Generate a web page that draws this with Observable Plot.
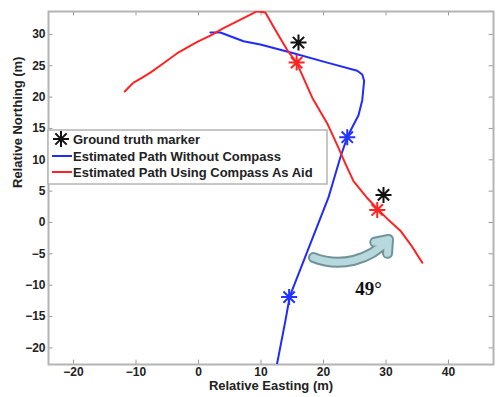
<!DOCTYPE html>
<html><head><meta charset="utf-8">
<script src="https://cdn.jsdelivr.net/npm/d3@7"></script>
<script src="https://cdn.jsdelivr.net/npm/@observablehq/plot@0.6"></script>
<style>
body{margin:0;background:#fff;}
#wrap{position:relative;width:496px;height:397px;}
#legend{position:absolute;left:47px;top:129px;}
</style></head><body><div id="wrap"></div>
<script>
// ---- data ----
const xTicks = [-20, -10, 0, 10, 20, 30, 40];
const yTicks = [-20, -15, -10, -5, 0, 5, 10, 15, 20, 25, 30];
const xDomain = [-24, 47.2];
const yDomain = [-22.65, 33.65];

const redEast  = [-11.8,-10.9,-10.4,-9.2,-7.7,-5.6,-3.4,-0.2,1.9,4.0,7.2,9.4,10.7,12.3,14.2,15.7,18.2,20.6,22.4,23.5,24.8,27.0,28.6,30.5,32.3,34.0,35.8];
const redNorth = [20.9,21.8,22.3,23.0,23.9,25.4,27.0,28.8,29.8,31.0,32.6,33.7,33.5,30.7,27.5,25.5,19.9,15.8,11.9,9.4,6.6,3.9,2.2,0.3,-1.3,-3.6,-6.4];

const blueEast  = [1.9,3.5,7.2,9.9,15.2,20.6,25.4,26.2,26.5,26.2,25.6,24.6,23.8,22.7,21.6,20.8,14.6,13.9,12.5];
const blueNorth = [30.3,30.3,28.9,28.4,27.0,25.5,24.2,23.6,22.6,19.5,17.1,15.2,13.6,10.4,6.7,4.0,-11.8,-15.7,-22.9];

const markerEast  = [16.0, 29.6, 15.7, 28.6, 23.8, 14.5];
const markerNorth = [28.7, 4.4, 25.5, 2.0, 13.6, -11.9];
const markerKind  = ["truth","truth","aided","aided","plain","plain"];

const arrowFrom = [18.4, -5.6];
const arrowTo   = [30.4, -2.7];
const angleLabel = {text: "49°", east: 27.2, north: -10.6};

const legendItems = ["Ground truth marker", "Estimated Path Without Compass", "Estimated Path Using Compass As Aid"];
const xLabel = "Relative Easting (m)";
const yLabel = "Relative Northing (m)";

// ---- build tables ----
const red = redEast.map((e, i) => ({e, n: redNorth[i]}));
const blue = blueEast.map((e, i) => ({e, n: blueNorth[i]}));
const markers = markerEast.map((e, i) => ({e, n: markerNorth[i], k: markerKind[i]}));
const colors = {truth: "#111111", aided: "#ff2424", plain: "#2233ff"};

const asterisk8 = {
  draw(ctx, size) {
    const r = Math.sqrt(size / Math.PI);
    for (let i = 0; i < 4; i++) {
      const a = i * Math.PI / 4;
      ctx.moveTo(r * Math.cos(a), r * Math.sin(a));
      ctx.lineTo(-r * Math.cos(a), -r * Math.sin(a));
    }
  }
};

const tickLenX = 0.7, tickLenY = 0.7;
const font = '"Liberation Sans", Arial, sans-serif';
const arrowSpec = {x1: () => arrowFrom[0], y1: () => arrowFrom[1], x2: () => arrowTo[0], y2: () => arrowTo[1], bend: -35, headAngle: 75};

const plot = Plot.plot({
  width: 496, height: 397,
  marginLeft: 48, marginRight: 3, marginTop: 11, marginBottom: 33,
  x: {domain: xDomain},
  y: {domain: yDomain},
  style: {fontFamily: font, fontSize: "12px", fontWeight: "bold", color: "#222", background: "#fff"},
  marks: [
    Plot.ruleX(xTicks, {x: d => d, y1: yDomain[0], y2: yDomain[0] + tickLenY, stroke: "#999"}),
    Plot.ruleX(xTicks, {x: d => d, y1: yDomain[1] - tickLenY, y2: yDomain[1], stroke: "#999"}),
    Plot.ruleY(yTicks, {y: d => d, x1: xDomain[0], x2: xDomain[0] + tickLenX, stroke: "#999"}),
    Plot.ruleY(yTicks, {y: d => d, x1: xDomain[1] - tickLenX, x2: xDomain[1], stroke: "#999"}),
    Plot.frame({stroke: "#b4b4b4", strokeWidth: 2}),
    Plot.axisX(xTicks, {tickSize: 0, tickPadding: 3, label: null}),
    Plot.axisY(yTicks, {tickSize: 0, tickPadding: 3, label: null}),
    Plot.text([xLabel], {frameAnchor: "bottom", text: d => d, dy: 25, fontSize: 13, fontWeight: "bold", fill: "#222"}),
    Plot.text([yLabel], {frameAnchor: "left", text: d => d, dx: -31, rotate: -90, fontSize: 13, fontWeight: "bold", fill: "#222"}),
    Plot.line(blue, {x: "e", y: "n", stroke: "#1f2bff", strokeWidth: 2, clip: true, strokeLinejoin: "round"}),
    Plot.line(red, {x: "e", y: "n", stroke: "#ff2424", strokeWidth: 2, clip: true, strokeLinejoin: "round"}),
    Plot.dot(markers, {x: "e", y: "n", stroke: d => colors[d.k], symbol: asterisk8, r: 8, strokeWidth: 2}),
    Plot.arrow([0], {...arrowSpec, stroke: "#6f9398", strokeWidth: 11, headLength: 1.9}),
    Plot.arrow([0], {...arrowSpec, stroke: "#b7d9de", strokeWidth: 7, headLength: 3.0}),
    Plot.text([angleLabel], {x: "east", y: "north", text: "text", fontFamily: '"Liberation Serif", "Times New Roman", serif', fontSize: 19, fontWeight: "bold", fill: "#111"})
  ]
});

const wrap = document.getElementById("wrap");
wrap.appendChild(plot);

// ---- legend (inside axes, upper-left) ----
const NS = "http://www.w3.org/2000/svg";
const lg = document.createElementNS(NS, "svg");
lg.setAttribute("id", "legend");
lg.setAttribute("width", 282);
lg.setAttribute("height", 57);
lg.style.fontFamily = font;
const rect = document.createElementNS(NS, "rect");
Object.entries({x: 1, y: 1, width: 279, height: 54, fill: "#fff", stroke: "#b4b4b4", "stroke-width": 1.5}).forEach(([k, v]) => rect.setAttribute(k, v));
lg.appendChild(rect);
const rowsY = [10, 27, 43];
const star = document.createElementNS(NS, "path");
const cx = 14, cy = rowsY[0], rr = 8;
let d = "";
for (let i = 0; i < 4; i++) { const a = i * Math.PI / 4; d += `M${cx + rr*Math.cos(a)},${cy + rr*Math.sin(a)}L${cx - rr*Math.cos(a)},${cy - rr*Math.sin(a)}`; }
star.setAttribute("d", d); star.setAttribute("stroke", colors.truth); star.setAttribute("stroke-width", 2); star.setAttribute("fill", "none");
lg.appendChild(star);
[["#1f2bff", rowsY[1]], ["#ff2424", rowsY[2]]].forEach(([c, y]) => {
  const l = document.createElementNS(NS, "line");
  Object.entries({x1: 5, x2: 25, y1: y, y2: y, stroke: c, "stroke-width": 2}).forEach(([k, v]) => l.setAttribute(k, v));
  lg.appendChild(l);
});
legendItems.forEach((t, i) => {
  const tx = document.createElementNS(NS, "text");
  tx.setAttribute("x", 26); tx.setAttribute("y", rowsY[i]); tx.setAttribute("dy", "0.35em");
  tx.setAttribute("font-size", 13); tx.setAttribute("font-weight", "bold"); tx.setAttribute("fill", "#222");
  tx.textContent = t;
  lg.appendChild(tx);
});
wrap.appendChild(lg);
</script>
</body></html>
